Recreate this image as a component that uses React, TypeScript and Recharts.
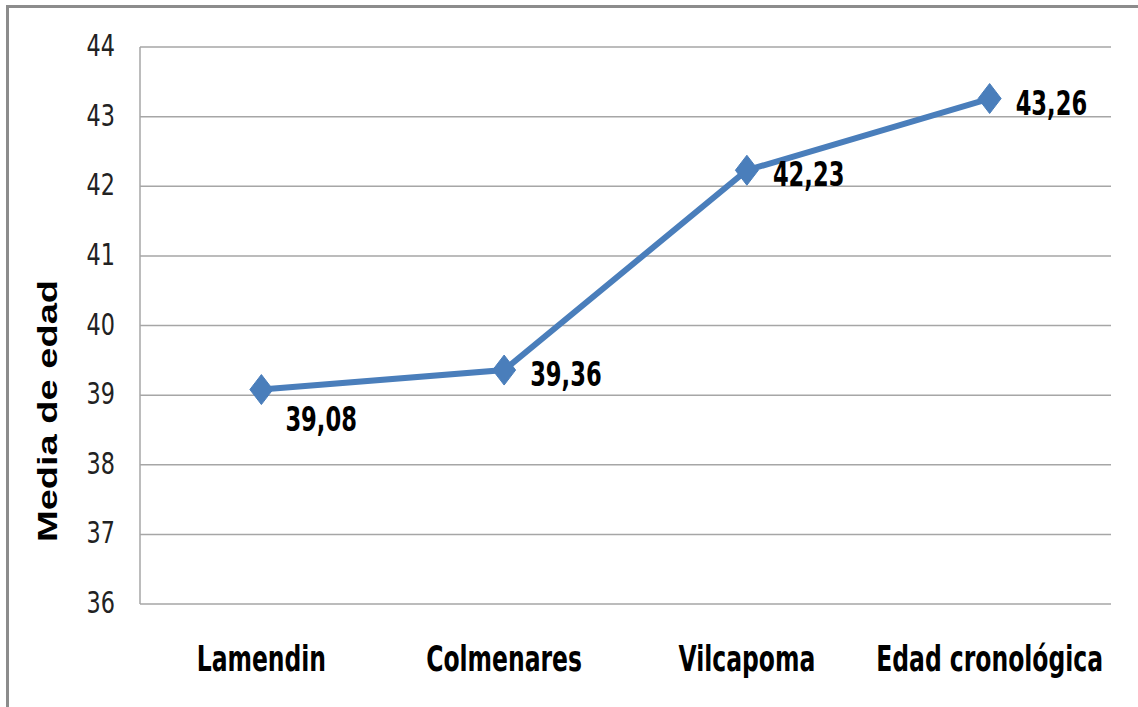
import React from 'react'
import { LineChart, Line, XAxis, YAxis, CartesianGrid, LabelList } from 'recharts'

const categories = ['Lamendin', 'Colmenares', 'Vilcapoma', 'Edad cronológica']
const meanAge = [39.08, 39.36, 42.23, 43.26]
const yTicks = [36, 37, 38, 39, 40, 41, 42, 43, 44]
const labelSide = ['below', 'right', 'right', 'right']

const data = categories.map((name, i) => ({ name, value: meanAge[i] }))

const narrow = "'DejaVu Sans Condensed', 'DejaVu Sans', sans-serif"
const blue = '#4a7ebb'
const grid = '#a6a6a6'

function Diamond (props: any) {
  const { cx, cy } = props
  if (cx == null || cy == null) return null
  const rx = 11.5
  const ry = 15
  return (
    <polygon
      points={`${cx},${cy - ry} ${cx + rx},${cy} ${cx},${cy + ry} ${cx - rx},${cy}`}
      fill={blue}
      stroke={blue}
    />
  )
}

function ValueLabel (props: any) {
  const { x, y, value, index } = props
  const below = labelSide[index] === 'below'
  const tx = x + (below ? 24 : 26)
  const ty = y + (below ? 41 : 16)
  return (
    <text
      transform={`translate(${tx},${ty}) scale(0.74,1)`}
      fontFamily={narrow}
      fontWeight="bold"
      fontSize={34}
      fill="#000"
    >
      {Number(value).toFixed(2).replace('.', ',')}
    </text>
  )
}

function CategoryTick (props: any) {
  const { x, y, payload } = props
  return (
    <text
      transform={`translate(${x},${y + 31}) scale(0.735,1)`}
      textAnchor="middle"
      fontFamily={narrow}
      fontWeight="bold"
      fontSize={35.5}
      fill="#000"
    >
      {payload.value}
    </text>
  )
}

function ValueTick (props: any) {
  const { x, y, payload } = props
  return (
    <text
      transform={`translate(${x},${y + 9}) scale(0.8,1)`}
      textAnchor="end"
      fontFamily={narrow}
      fontSize={31}
      fill="#222"
    >
      {payload.value}
    </text>
  )
}

export default function App () {
  return (
    <div style={{ position: 'absolute', left: 0, top: 0, width: 1138, height: 707, background: '#fff', overflow: 'hidden' }}>
      <div style={{ position: 'absolute', left: 6, top: 5, width: 1140, height: 720, borderLeft: '3px solid #8c8c8c', borderTop: '3px solid #8c8c8c' }} />
      <LineChart
        width={1138}
        height={707}
        data={data}
        margin={{ top: 47, right: 27, bottom: 43, left: 40 }}
        style={{ position: 'absolute', left: 0, top: 0 }}
      >
        <CartesianGrid vertical={false} stroke={grid} strokeWidth={1.5} />
        <XAxis
          dataKey="name"
          scale="band"
          axisLine={false}
          tickLine={false}
          tickMargin={30}
          height={60}
          tick={<CategoryTick />}
        />
        <YAxis
          domain={[36, 44]}
          ticks={yTicks}
          width={100}
          axisLine={{ stroke: grid, strokeWidth: 1.5 }}
          tickLine={false}
          tickMargin={19}
          tick={<ValueTick />}
        />
        <Line
          type="linear"
          dataKey="value"
          stroke={blue}
          strokeWidth={6}
          dot={<Diamond />}
          activeDot={false}
          isAnimationActive={false}
        >
          <LabelList dataKey="value" content={<ValueLabel />} />
        </Line>
      </LineChart>
      <svg width={100} height={707} style={{ position: 'absolute', left: 0, top: 0 }}>
        <text
          x={0}
          y={0}
          transform="translate(57,411) rotate(-90)"
          textAnchor="middle"
          fontFamily="'Liberation Sans', Arial, sans-serif"
          fontWeight="bold"
          fontSize={28}
          textLength={262}
          lengthAdjust="spacingAndGlyphs"
          fill="#000"
        >
          Media de edad
        </text>
      </svg>
    </div>
  )
}
